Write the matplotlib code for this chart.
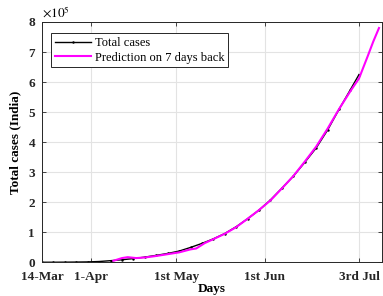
import numpy as np
import matplotlib.pyplot as plt

# days counted from 14-Mar
days_total = [0, 4, 8, 12, 16, 20, 24, 28, 32, 36, 40, 44, 48, 52, 56, 60,
              64, 68, 72, 76, 80, 84, 88, 92, 96, 100, 104, 108, 111]
total_cases = [102, 151, 396, 727, 1251, 2567, 5351, 8446, 12380, 17265,
               23077, 29435, 37257, 49400, 62808, 78003, 95698, 118447,
               144950, 173763, 207615, 246628, 286579, 332424, 380532,
               440215, 508953, 575000, 625000]

days_pred = [25, 28, 30, 33, 36, 40, 44, 48, 52, 54, 57, 60, 64, 68, 72, 76,
             80, 84, 88, 92, 96, 100, 104, 108, 111, 114, 116, 118]
pred_cases = [5000, 14000, 17000, 14000, 16000, 21000, 27000, 33000, 43000,
              46000, 64000, 77000, 95000, 117000, 145000, 174000, 206000,
              246000, 287000, 335000, 385000, 445000, 510000, 570000, 612000,
              685000, 735000, 780000]

xtick_pos = [0, 17, 47, 78, 111]
xtick_labels = ["14-Mar", "1-Apr", "1st May", "1st Jun", "3rd Jul"]
ytick_vals = [0, 1e5, 2e5, 3e5, 4e5, 5e5, 6e5, 7e5, 8e5]
ytick_labels = ["0", "1", "2", "3", "4", "5", "6", "7", "8"]

plt.rcParams["font.family"] = "Liberation Serif"
plt.rcParams["mathtext.fontset"] = "stix"

fig = plt.figure(figsize=(3.83, 2.96), dpi=100)
ax = fig.add_axes([0.1097, 0.1139, 0.8873, 0.8118])

ax.plot(days_total, total_cases, ".-", color="black", lw=1.0, ms=1.5,
        label="Total cases")
ax.plot(days_pred, pred_cases, "-", color="#ff00ff", lw=1.5,
        label="Prediction on 7 days back")

ax.set_xlim(0, 119)
ax.set_ylim(0, 8e5)
ax.set_xticks(xtick_pos)
ax.set_xticklabels(xtick_labels, fontweight="bold", fontsize=9.5)
ax.set_yticks(ytick_vals)
ax.set_yticklabels(ytick_labels, fontweight="bold", fontsize=9.5)
ax.tick_params(direction="in", top=True, right=True, length=3, width=0.6,
               colors="#262626")
ax.tick_params(axis="x", pad=6)
ax.tick_params(axis="y", pad=5)
ax.grid(True, color="#e3e3e3", lw=0.8)
ax.set_axisbelow(True)
for s in ax.spines.values():
    s.set_color("#262626")
    s.set_linewidth(0.7)

ax.text(0.0, 1.005, r"$\times 10^{5}$", transform=ax.transAxes,
        fontsize=9.5, fontweight="bold", ha="left", va="bottom")
ax.set_xlabel("Days", fontweight="bold", fontsize=9.5, labelpad=0)
ax.set_ylabel("Total cases (India)", fontweight="bold", fontsize=9.5, labelpad=5)

leg = ax.legend(loc="upper left", bbox_to_anchor=(0.027, 0.953),
                borderaxespad=0, fontsize=9, handlelength=2.9,
                fancybox=False, framealpha=1, edgecolor="#262626",
                borderpad=0.3, labelspacing=0.2, handletextpad=0.3)
leg.get_frame().set_linewidth(0.7)

fig.savefig("out.png", dpi=100)
